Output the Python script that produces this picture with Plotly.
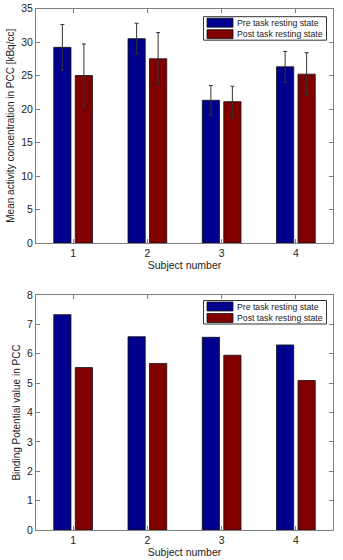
import plotly.graph_objects as go

subjects = [1, 2, 3, 4]
series_names = ["Pre task resting state", "Post task resting state"]

activity_pre = [29.2, 30.5, 21.3, 26.3]
activity_post = [25.0, 27.5, 21.1, 25.2]
activity_pre_err = [3.4, 2.3, 2.2, 2.3]
activity_post_err = [4.7, 3.9, 2.3, 3.2]

bp_pre = [7.33, 6.58, 6.56, 6.30]
bp_post = [5.53, 5.67, 5.95, 5.09]

colors = ["#00008F", "#800000"]
FONT = "Liberation Sans, Arial, sans-serif"
TXT = "#222222"

fig = go.Figure()

def add_bars(xa, ya, vals, errs):
    for i, (v, name) in enumerate(zip(vals, series_names)):
        kw = {}
        if errs is not None:
            kw["error_y"] = dict(type="data", array=errs[i], visible=True,
                                 color="#333333", thickness=1, width=2)
        fig.add_trace(go.Bar(
            x=subjects, y=v, name=name, xaxis=xa, yaxis=ya,
            marker=dict(color=colors[i], line=dict(color="#111111", width=0.8)),
            offsetgroup=str(i), showlegend=False, **kw))

add_bars("x", "y", [activity_pre, activity_post], [activity_pre_err, activity_post_err])
add_bars("x2", "y2", [bp_pre, bp_post], None)

ax_common = dict(showline=True, linecolor="#7f7f7f", linewidth=1, mirror="ticks",
                 ticks="inside", ticklen=4, tickcolor="#7f7f7f",
                 showgrid=False, zeroline=False, automargin=False,
                 tickfont=dict(family=FONT, size=10.5, color=TXT))

dom_x = [36/343, 333/343]
fig.update_layout(
    width=343, height=560, margin=dict(l=0, r=0, t=0, b=0),
    paper_bgcolor="white", plot_bgcolor="white",
    barmode="group", bargap=0.42, bargroupgap=0.2,
    font=dict(family=FONT, size=11, color=TXT),
    xaxis=dict(domain=dom_x, anchor="y", range=[0.5, 4.5], tickvals=subjects,
               title=dict(text="Subject number", font=dict(size=10.5), standoff=1), **ax_common),
    yaxis=dict(domain=[1-243/560, 1-8.5/560], anchor="x", range=[0, 35], dtick=5,
               title=dict(text="Mean activity concentration in PCC [kBq/cc]", font=dict(size=10), standoff=4),
               **ax_common),
    xaxis2=dict(domain=dom_x, anchor="y2", range=[0.5, 4.5], tickvals=subjects,
                title=dict(text="Subject number", font=dict(size=10.5), standoff=1), **ax_common),
    yaxis2=dict(domain=[1-530/560, 1-295/560], anchor="x2", range=[0, 8], dtick=1,
                title=dict(text="Binding Potential value in PCC", font=dict(size=10), standoff=4),
                **ax_common),
)

# Manual MATLAB-style legends
shapes = []
annotations = []
for top in [16.7, 300.5]:
    box_l, box_r = 203.5, 326.5
    box_t, box_b = top, top + 23.5
    shapes.append(dict(type="rect", xref="paper", yref="paper",
                       x0=box_l/343, x1=box_r/343, y0=1-box_b/560, y1=1-box_t/560,
                       line=dict(color="#333333", width=1), fillcolor="white", layer="above"))
    for i, name in enumerate(series_names):
        cy = top + 6 + i * 11.5
        shapes.append(dict(type="rect", xref="paper", yref="paper",
                           x0=207/343, x1=233/343, y0=1-(cy+4.5)/560, y1=1-(cy-4.5)/560,
                           line=dict(color="#111111", width=0.8), fillcolor=colors[i], layer="above"))
        annotations.append(dict(xref="paper", yref="paper", x=235/343, y=1-cy/560,
                                text=name, showarrow=False, xanchor="left", yanchor="middle",
                                font=dict(family=FONT, size=8.7, color=TXT)))
fig.update_layout(shapes=shapes, annotations=annotations)

fig.write_html("out.html", config={"displayModeBar": False})

# Remove default body margin so the figure fills the window exactly
with open("out.html", "r", encoding="utf-8") as f:
    html = f.read()
html = html.replace("<body>", '<body style="margin:0;padding:0;overflow:hidden">', 1)
with open("out.html", "w", encoding="utf-8") as f:
    f.write(html)
